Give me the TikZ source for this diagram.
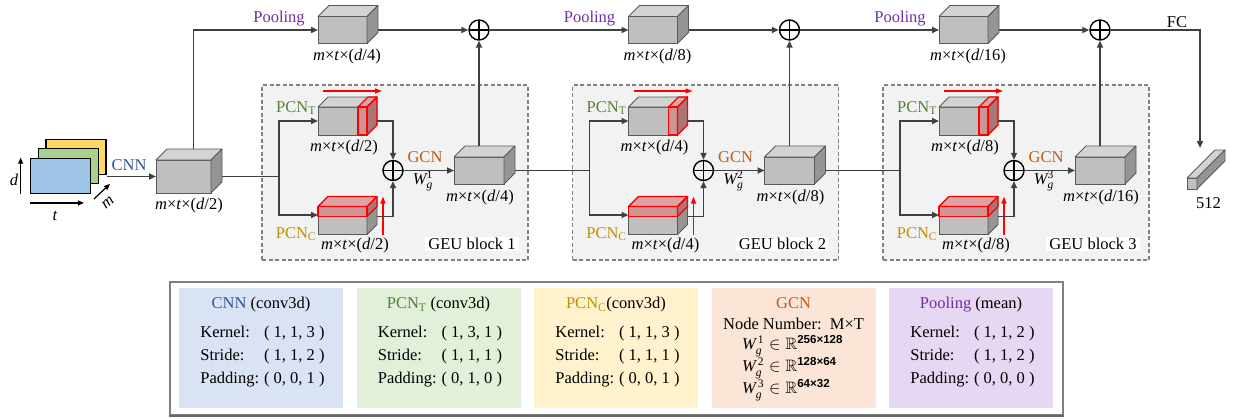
\documentclass[tikz,border=0pt]{standalone}
\usepackage{amsmath,amssymb}
\usepackage{fontspec}
\setmainfont{Liberation Serif}
\setsansfont{Liberation Sans}
\usetikzlibrary{calc,arrows.meta}

\definecolor{cfront}{HTML}{BFBFBF}
\definecolor{ctop}{HTML}{D3D3D3}
\definecolor{cside}{HTML}{959595}
\definecolor{cedge}{HTML}{595959}
\definecolor{wirecol}{HTML}{404040}
\definecolor{geufill}{HTML}{F2F2F2}
\definecolor{geuline}{HTML}{808080}
\definecolor{cnnblue}{HTML}{2F5597}
\definecolor{pcntgreen}{HTML}{548235}
\definecolor{pcncgold}{HTML}{BF9000}
\definecolor{gcnorange}{HTML}{C55A11}
\definecolor{poolpurple}{HTML}{7030A0}
\definecolor{lgblue}{HTML}{DAE3F3}
\definecolor{lggreen}{HTML}{E2F0D9}
\definecolor{lgyellow}{HTML}{FFF2CC}
\definecolor{lgorange}{HTML}{FBE5D6}
\definecolor{lgpurple}{HTML}{E6D8F3}
\definecolor{stackyellow}{HTML}{FFD966}
\definecolor{stackgreen}{HTML}{A9D18E}
\definecolor{stackblue}{HTML}{9DC3E6}

% front face as a named node, top and side faces drawn from its anchors
% #1 name, #2 x, #3 y, #4 width, #5 height, #6 depth
\newcommand\cuboid[6]{%
  \node[facebox, minimum width=#4pt, minimum height=#5pt] (#1) at (#2,#3) {};
  \filldraw[edgeline, fill=ctop] (#1.north west) -- ++(#6,-#6) -- ++(#4,0) -- (#1.north east) -- cycle;
  \filldraw[edgeline, fill=cside] (#1.north east) -- ++(#6,-#6) -- ++(0,#5) -- (#1.south east) -- cycle;
}
\newcommand\dims[1]{\textit{m}×\textit{t}×(\textit{d}/#1)}
\newcommand\wgt[1]{$\textit{W}_{\textit{g}}^{\text{#1}}$}
\newcommand\wgr[2]{$\textit{W}_{\textit{g}}^{\,\text{#1}}\in\mathbb{R}^{\textsf{\bfseries #2}}$}
\newcommand\params[3]{{\renewcommand\arraystretch{1.2}%
  \begin{tabular}{@{}l@{\hspace{5pt}}l@{}}Kernel: & ( #1 )\\ Stride: & ( #2 )\\ Padding: & ( #3 )\end{tabular}}}

\tikzset{
  facebox/.style={draw=cedge, fill=cfront, line width=0.8pt, inner sep=0pt, outer sep=0pt},
  edgeline/.style={draw=cedge, line width=0.8pt, line join=round},
  wire/.style={draw=wirecol, line width=1.7pt},
  link/.style={wire, -{Triangle[length=7pt,width=6pt]}},
  plus/.style={circle, draw=black, line width=1.4pt, minimum size=20pt, inner sep=0pt,
    path picture={\draw[line width=1.4pt] (path picture bounding box.north) -- (path picture bounding box.south)
      (path picture bounding box.west) -- (path picture bounding box.east);}},
  redslab/.style={draw=red, line width=1.1pt, fill=red, fill opacity=0.22, line join=round},
  redarrow/.style={draw=red, line width=1.4pt, -{Triangle[length=7pt,width=5pt]}},
  geu/.style={draw=geuline, fill=geufill, dash pattern=on 4pt off 2.5pt, line width=1.3pt,
    minimum width=266pt, minimum height=175pt, inner sep=0pt},
  stackrect/.style={draw=black, line width=1.3pt, minimum width=60pt, minimum height=35pt, inner sep=0pt},
  axis/.style={draw=black, line width=1.2pt, -{Triangle[length=6pt,width=5pt]}},
  blocktag/.style={fill=white, inner xsep=3pt, inner ysep=1.5pt},
  lgbox/.style={minimum width=164pt, minimum height=120pt, inner sep=0pt},
  wline/.style={anchor=west, inner sep=0pt},
}

\begin{document}
\begin{tikzpicture}[x=1pt, y=-1pt, font=\fontsize{16.5pt}{19pt}\selectfont]
\useasboundingbox (0,0) rectangle (1235,418);

% ---------- input feature stack ----------
\node[stackrect, fill=stackyellow] (iny) at (76,157.2) {};
\node[stackrect, fill=stackgreen] (ing) at (68.3,165.8) {};
\node[stackrect, fill=stackblue] (inb) at (60.3,175.8) {};
\draw[axis] ($(inb.south west)+(-9,0)$) -- ($(inb.north west)+(-9,0)$);
\draw[axis] ($(inb.south west)+(0,9)$) -- ($(inb.south east)+(-7,9)$);
\draw[axis] ($(inb.south east)+(3,5)$) -- ++(16,-15);
\node (dlbl) at (14,180) {\textit{d}};
\node (tlbl) at (55,216) {\textit{t}};
\node[rotate=40] (mlbl) at (108,203) {\textit{m}};

% ---------- CNN output ----------
\cuboid{in}{183.5}{176.5}{55}{33}{11}
\node[text=cnnblue] (cnnlbl) at (129,165) {CNN};
\draw[link] (iny.south east |- in.west) -- (in.west);
\node (indim) at (189,206) {\dims{2}};

\coordinate (br0) at (279,176.5);
\coordinate (br1) at (589.5,170.5);
\coordinate (br2) at (900,170.5);

% ---------- GEU blocks and pooling path ----------
\foreach \k/\a/\b in {0/2/4,1/4/8,2/8/16}{
  \pgfmathsetmacro\ox{310.5*\k}
  \pgfmathtruncatemacro\n{\k+1}
  \node[geu] (geu\k) at (395+\ox,172.5) {};
  \node[blocktag] (tag\k) at (472+\ox,244) {GEU block \n};

  % temporal branch
  \cuboid{t\k}{342.5+\ox}{121}{49}{28}{10}
  \filldraw[redslab] ($(t\k.north east)+(-9,0)$) rectangle (t\k.south east);
  \filldraw[redslab] ($(t\k.north east)+(-9,0)$) -- ++(10,-10) -- ++(9,0) -- (t\k.north east) -- cycle;
  \filldraw[redslab] (t\k.north east) -- ++(10,-10) -- ++(0,28) -- (t\k.south east) -- cycle;
  \draw[redarrow] ($(t\k.north west)+(5,-16)$) -- ($(t\k.north east)+(15,-16)$);
  \node[text=pcntgreen] (tl\k) at (296+\ox,108) {PCN\textsubscript{T}};
  \node (td\k) at (344+\ox,148) {\dims{\a}};

  % channel branch
  \cuboid{c\k}{342.5+\ox}{220.5}{49}{28}{10}
  \filldraw[redslab] (c\k.north west) rectangle ($(c\k.north east)+(0,10)$);
  \filldraw[redslab] (c\k.north west) -- ++(10,-10) -- ++(49,0) -- (c\k.north east) -- cycle;
  \filldraw[redslab] (c\k.north east) -- ++(10,-10) -- ++(0,10) -- ($(c\k.north east)+(0,10)$) -- cycle;
  \draw[redarrow] ($(c\k.south east)+(16,0)$) -- ($(c\k.north east)+(16,-10)$);
  \node[text=pcncgold] (cl\k) at (296+\ox,234) {PCN\textsubscript{C}};
  \node (cd\k) at (355+\ox,246) {\dims{\a}};

  % fusion and graph convolution
  \node[plus] (x\k) at (393+\ox,170.5) {};
  \cuboid{g\k}{479+\ox}{170.5}{50}{27}{11}
  \node (gd\k) at (480+\ox,198) {\dims{\b}};
  \node[text=gcnorange] (gl\k) at (425+\ox,157) {GCN};
  \node (gw\k) at (423+\ox,181) {\wgt{\n}};

  \draw[link] (br\k) |- (t\k.west);
  \draw[link] (br\k) |- ([yshift=5.5pt]c\k.west);
  \draw[link] ($(t\k.east)+(10,0)$) -| (x\k.north);
  \draw[link] ($(c\k.east)+(10,-4)$) -| (x\k.south);
  \draw[link] (x\k.east) -- (x\k.east -| g\k.west);

  % pooling path
  \cuboid{p\k}{342.5+\ox}{30}{49}{27}{11}
  \node[text=poolpurple] (pl\k) at (279+\ox,19) {Pooling};
  \node (pd\k) at (347+\ox,57) {\dims{\b}};
  \node[plus] (s\k) at (479+\ox,30) {};
  \draw[link] ($(p\k.east)+(11,0)$) -- (s\k.west);
  \draw[link] ($(g\k.north)+(0,-11)$) -- (s\k.south);
}

\draw[wire] ($(in.east)+(11,0)$) -- (br0);
\draw[wire] ($(g0.east)+(11,0)$) -- (br1);
\draw[wire] ($(g1.east)+(11,0)$) -- (br2);
\draw[link] ($(in.north)+(10,-11)$) |- (p0.west);
\draw[link] (s0.east) -- (p1.west);
\draw[link] (s1.east) -- (p2.west);

% ---------- fully connected output ----------
\cuboid{bar}{1192}{183.5}{10}{11}{28}
\coordinate (fcend) at ($(bar.north)+(8,-30)$);
\draw[link] (s2.east) -| (fcend);
\node (fclbl) at (1177,22) {FC};
\node (barlbl) at (1208.5,203) {512};

% ---------- legend ----------
\node[draw=geuline, line width=1.2pt, minimum width=893pt, minimum height=133pt, inner sep=0pt] (legend) at (616.5,348.5) {};
\draw[draw=gray!80!black, line width=2.2pt] (legend.south west) -- (legend.south east);

\node[lgbox, fill=lgblue] (lcnn) at (261,348) {};
\node[lgbox, fill=lggreen] (lpt) at (438.5,348) {};
\node[lgbox, fill=lgyellow] (lpc) at (616,348) {};
\node[lgbox, fill=lgorange] (lgcn) at (793.5,348) {};
\node[lgbox, fill=lgpurple] (lpool) at (971,348) {};

\node (lcnnt) at (261,305) {\textcolor{cnnblue}{CNN} (conv3d)};
\node (lcnnp) at (262.5,356) {\params{1, 1, 3}{1, 1, 2}{0, 0, 1}};
\node (lptt) at (438.5,305) {\textcolor{pcntgreen}{PCN\textsubscript{T}} (conv3d)};
\node (lptp) at (440,356) {\params{1, 3, 1}{1, 1, 1}{0, 1, 0}};
\node (lpct) at (616,305) {\textcolor{pcncgold}{PCN\textsubscript{C}}(conv3d)};
\node (lpcp) at (617.5,356) {\params{1, 1, 3}{1, 1, 1}{0, 0, 1}};
\node[text=gcnorange] (lgcnt) at (793.5,303) {GCN};
\node[inner sep=1pt] (lgcnn) at (793.5,323.5) {Node Number:\ \ M×T};
\node[wline] (lgw1) at (742,346) {\wgr{1}{256×128}};
\node[wline] (lgw2) at (742,368) {\wgr{2}{128×64}};
\node[wline] (lgw3) at (742,390) {\wgr{3}{64×32}};
\node (lpoolt) at (971,305) {\textcolor{poolpurple}{Pooling} (mean)};
\node (lpoolp) at (972.5,356) {\params{1, 1, 2}{1, 1, 2}{0, 0, 0}};
\end{tikzpicture}
\end{document}
